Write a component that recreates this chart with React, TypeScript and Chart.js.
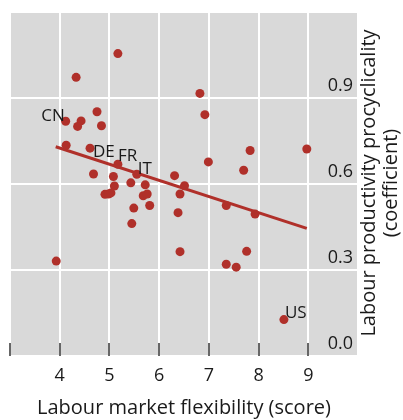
import React, { useEffect, useRef } from "react";
import { Chart, registerables } from "chart.js";

Chart.register(...registerables);

// Labour market flexibility (score)
const flexibility = [
  5.17, 4.33, 6.82, 6.92, 4.75, 4.12, 4.43, 4.36, 4.84, 4.13, 4.61, 5.17, 5.55, 4.68,
  5.08, 5.43, 5.10, 5.72, 4.91, 4.98, 5.03, 5.68, 5.76, 5.49, 5.81, 5.45, 3.93, 6.31,
  6.51, 6.42, 6.38, 6.42, 6.99, 7.70, 7.83, 8.97, 7.35, 7.93, 7.76, 7.35, 7.55, 8.51,
];
// Labour productivity procyclicality (coefficient)
const procyclicality = [
  1.055, 0.972, 0.916, 0.842, 0.852, 0.819, 0.820, 0.801, 0.803, 0.735, 0.725, 0.669,
  0.634, 0.635, 0.626, 0.604, 0.593, 0.597, 0.564, 0.565, 0.569, 0.559, 0.565, 0.516,
  0.525, 0.462, 0.331, 0.629, 0.594, 0.565, 0.500, 0.364, 0.677, 0.648, 0.717, 0.722,
  0.525, 0.495, 0.365, 0.320, 0.310, 0.127,
];
const countryCodes = [
  "", "", "", "", "", "CN", "", "", "", "", "DE", "FR", "IT", "", "", "", "", "", "", "",
  "", "", "", "", "", "", "", "", "", "", "", "", "", "", "", "", "", "", "", "", "", "US",
];
// Fitted trend line endpoints
const trendX = [3.92, 8.97];
const trendY = [0.73, 0.445];

// Axis ranges / ticks
const xMin = 3;
const xMax = 10;
const xTickLabels = ["4", "5", "6", "7", "8", "9"];
const yMin = 0;
const yMax = 1.2;
const yTickLabels = ["0.0", "0.3", "0.6", "0.9"];

const xTitle = "Labour market flexibility (score)";
const yTitle = ["Labour productivity procyclicality", "(coefficient)"];

const RED = "#b0302a";
const TEXT = "#1a1a1a";
const FONT = "'Open Sans', 'Noto Sans', sans-serif";

// label placement style: anchor side and pixel offsets
const labelStyle: Record<string, { align: CanvasTextAlign; dx: number; dy: number }> = {
  CN: { align: "right", dx: -1, dy: -5 },
  DE: { align: "left", dx: 3, dy: 4 },
  FR: { align: "left", dx: 0, dy: -8 },
  IT: { align: "left", dx: 1, dy: -5 },
  US: { align: "left", dx: 1, dy: -6 },
};

const decorPlugin = {
  id: "decor",
  beforeDraw(chart: any) {
    const { ctx, chartArea } = chart;
    ctx.save();
    ctx.fillStyle = "#d9d9d9";
    ctx.fillRect(chartArea.left, chartArea.top, chartArea.right - chartArea.left, chartArea.bottom - chartArea.top);
    ctx.restore();
  },
  afterDatasetsDraw(chart: any) {
    const { ctx, chartArea, scales } = chart;
    const xs = scales.x;
    const ys = scales.y;
    ctx.save();
    // inner tick marks on bottom
    ctx.strokeStyle = "#333";
    ctx.lineWidth = 1.5;
    for (let v = xMin; v < xMax; v++) {
      const px = Math.round(xs.getPixelForValue(v));
      ctx.beginPath();
      ctx.moveTo(px, chartArea.bottom);
      ctx.lineTo(px, chartArea.bottom - 13);
      ctx.stroke();
    }
    // country labels
    ctx.fillStyle = TEXT;
    ctx.font = `17px ${FONT}`;
    ctx.textBaseline = "middle";
    countryCodes.forEach((c, i) => {
      if (!c) return;
      const st = labelStyle[c];
      const px = xs.getPixelForValue(flexibility[i]);
      const py = ys.getPixelForValue(procyclicality[i]);
      ctx.textAlign = st.align;
      ctx.fillText(c, px + st.dx, py + st.dy);
    });
    // rotated y title on the right
    ctx.font = `20px ${FONT}`;
    ctx.textAlign = "center";
    ctx.translate(369, (chartArea.top + chartArea.bottom) / 2 - 1);
    ctx.rotate(-Math.PI / 2);
    ctx.fillText(yTitle[0], 0, 0);
    ctx.fillText(yTitle[1], 0, 22);
    ctx.restore();
  },
};

export default function App() {
  const ref = useRef<HTMLCanvasElement | null>(null);
  useEffect(() => {
    if (!ref.current) return;
    const points = flexibility.map((x, i) => ({ x, y: procyclicality[i] }));
    const trend = trendX.map((x, i) => ({ x, y: trendY[i] }));
    const chart = new Chart(ref.current, {
      type: "scatter",
      data: {
        datasets: [
          {
            data: points,
            backgroundColor: RED,
            borderWidth: 0,
            pointRadius: 4.5,
            order: 0,
          },
          {
            type: "line",
            data: trend,
            borderColor: RED,
            borderWidth: 3,
            pointRadius: 0,
            showLine: true,
            order: 1,
          } as any,
        ],
      },
      options: {
        animation: false,
        responsive: false,
        devicePixelRatio: 1,
        layout: { padding: { left: 10, top: 12, right: 45, bottom: 0 } },
        plugins: { legend: { display: false }, tooltip: { enabled: false } },
        scales: {
          x: {
            type: "linear",
            min: xMin,
            max: xMax,
            ticks: {
              stepSize: 1,
              padding: 9,
              color: TEXT,
              font: { size: 18, family: FONT },
              callback: (v: any) => (xTickLabels.includes(String(v)) ? String(v) : ""),
            },
            grid: { color: "#ffffff", lineWidth: 2, drawTicks: false },
            border: { display: false },
            title: {
              display: true,
              text: xTitle,
              color: TEXT,
              font: { size: 20, family: FONT },
              padding: { top: 0, bottom: 0 },
            },
            afterFit: (s: any) => {
              s.height = 64;
            },
          },
          y: {
            type: "linear",
            position: "right",
            min: yMin,
            max: yMax,
            ticks: {
              stepSize: 0.3,
              mirror: true,
              padding: -5,
              labelOffset: -12,
              color: TEXT,
              font: { size: 18, family: FONT },
              callback: (v: any) => {
                const s = Number(v).toFixed(1);
                return yTickLabels.includes(s) ? s : "";
              },
            },
            grid: { color: "#ffffff", lineWidth: 2, drawTicks: false },
            border: { display: false },
            afterFit: (s: any) => {
              s.width = 0;
            },
          },
        },
      },
      plugins: [decorPlugin],
    });
    return () => chart.destroy();
  }, []);
  return (
    <div style={{ position: "absolute", left: 0, top: 0, width: 403, height: 420 }}>
      <canvas ref={ref} width={403} height={420} />
    </div>
  );
}
